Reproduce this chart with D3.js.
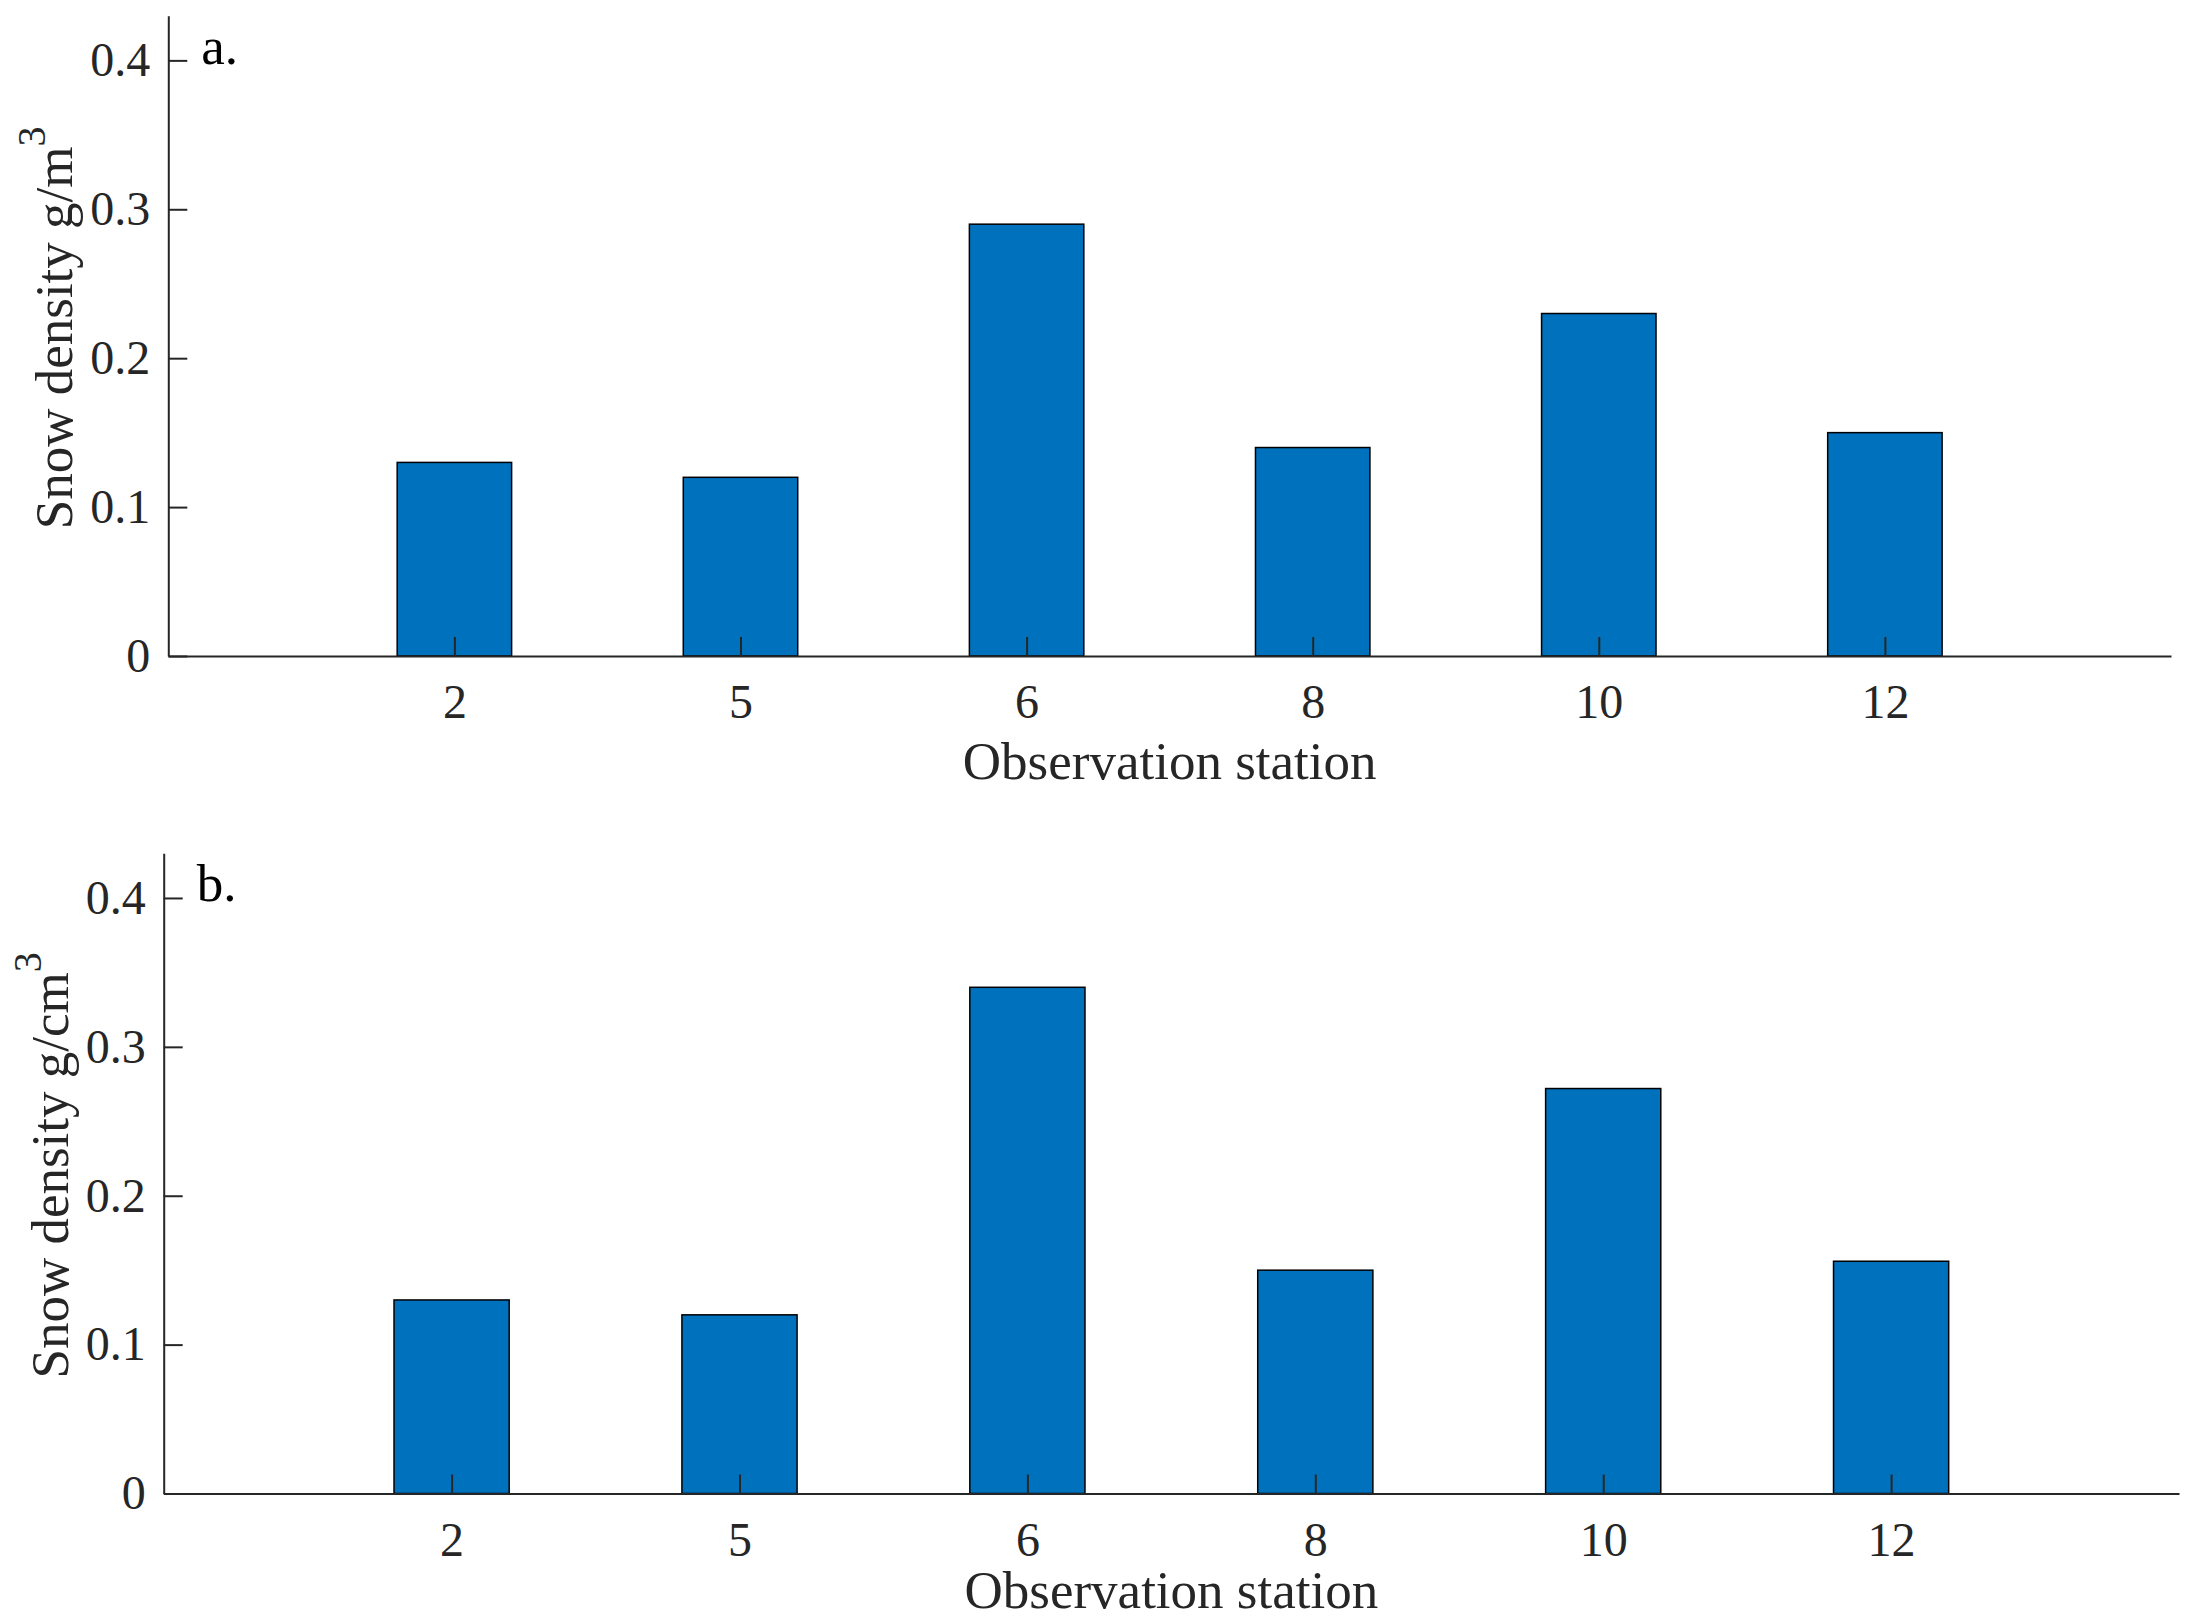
<!DOCTYPE html>
<html>
<head>
<meta charset="utf-8">
<script src="https://cdn.jsdelivr.net/npm/d3@7"></script>
<style>
    body { margin: 0; background: #fff; }
    svg { display: block; }
    .axis path, .axis line { stroke: #262626; stroke-width: 2; }
    .axis text { fill: #262626; }
</style>
</head>
<body>
<svg width="2201" height="1623"></svg>
<script>
// data
let stations = ["2", "5", "6", "8", "10", "12"];
let densityA = [0.13, 0.12, 0.29, 0.14, 0.23, 0.15];
let densityB = [0.13, 0.12, 0.34, 0.15, 0.272, 0.156];
let yTicks = [0, 0.1, 0.2, 0.3, 0.4];
let yMax = 0.43;

let svg = d3.select("svg");
let serif = "'Liberation Serif', 'Times New Roman', serif";

let drawpanel = function (opt) {
    let x = d3.scaleLinear().domain([0, stations.length + 1]).range([opt.left, opt.right]),
        y = d3.scaleLinear().domain([0, yMax]).range([opt.bottom, opt.top]);

    let unit = x(1) - x(0);
    let g = svg.append("g");

    // bars first, axes drawn on top like matlab
    g.selectAll(".bar")
        .data(opt.values)
        .enter().append("rect")
        .attr("class", "bar")
        .attr("x", function (d, i) { return x(i + 1) - unit * 0.2; })
        .attr("y", function (d) { return y(d); })
        .attr("width", unit * 0.4)
        .attr("height", function (d) { return y(0) - y(d); })
        .attr("fill", "#0072BD")
        .attr("stroke", "#000")
        .attr("stroke-width", 1.5);

    g.append("g")
        .attr("class", "axis axis--x")
        .attr("transform", "translate(0," + opt.bottom + ")")
        .call(d3.axisBottom(x)
            .tickValues(d3.range(1, stations.length + 1))
            .tickFormat(function (d) { return stations[d - 1]; })
            .tickSizeInner(-19)
            .tickSizeOuter(0)
            .tickPadding(28))
        .attr("font-family", serif)
        .attr("font-size", 48);

    g.append("g")
        .attr("class", "axis axis--y")
        .attr("transform", "translate(" + opt.left + ",0)")
        .call(d3.axisLeft(y)
            .tickValues(yTicks)
            .tickFormat(function (d) { return d === 0 ? "0" : d3.format(".1f")(d); })
            .tickSizeInner(-19)
            .tickSizeOuter(0)
            .tickPadding(18))
        .attr("font-family", serif)
        .attr("font-size", 48);

    // x label
    g.append("text")
        .attr("x", (opt.left + opt.right) / 2)
        .attr("y", opt.bottom + opt.xlabelGap)
        .attr("text-anchor", "middle")
        .attr("font-family", serif)
        .attr("font-size", 53)
        .attr("fill", "#262626")
        .text("Observation station");

    // y label with superscript
    let cy = (opt.top + opt.bottom) / 2 - 8;
    let yl = g.append("text")
        .attr("transform", "translate(" + (opt.left - 96) + "," + cy + ") rotate(-90)")
        .attr("text-anchor", "middle")
        .attr("font-family", serif)
        .attr("font-size", 53)
        .attr("fill", "#262626");
    yl.append("tspan").text(opt.ylabel);
    yl.append("tspan").attr("dy", -27).attr("font-size", 40).text("3");

    // panel letter
    g.append("text")
        .attr("x", opt.left + 33)
        .attr("y", opt.top + 48)
        .attr("font-family", serif)
        .attr("font-size", 53)
        .attr("fill", "#000")
        .text(opt.letter);
};

drawpanel({left: 168.3, right: 2171, top: 15.7, bottom: 656, xlabelGap: 123,
    values: densityA, ylabel: "Snow density g/m", letter: "a."});
drawpanel({left: 163.7, right: 2179, top: 853.3, bottom: 1493.5, xlabelGap: 114,
    values: densityB, ylabel: "Snow density g/cm", letter: "b."});
</script>
</body>
</html>
